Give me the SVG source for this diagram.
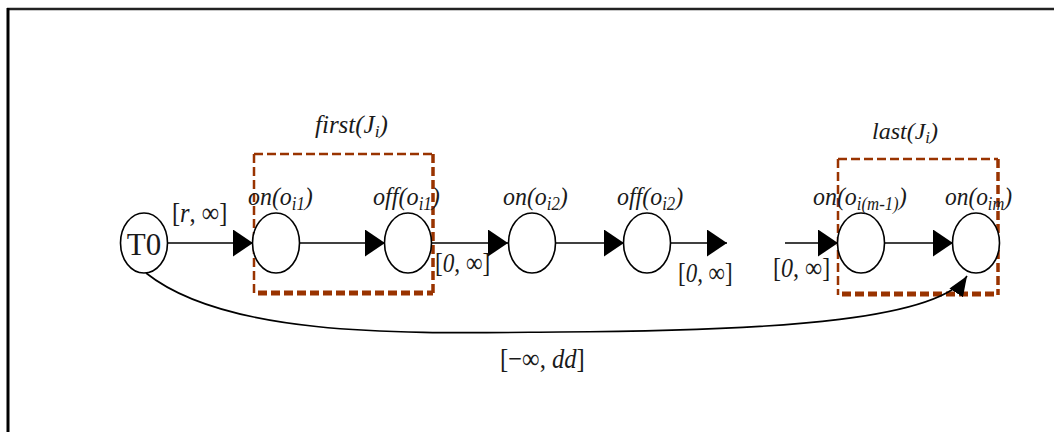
<svg xmlns="http://www.w3.org/2000/svg" width="1054" height="432" viewBox="0 0 1054 432">
<style>
.node{fill:#fff;stroke:#000;stroke-width:1.6}
.edge{fill:none;stroke:#000;stroke-width:1.6}
.box{fill:none;stroke:#993300;stroke-dasharray:9 4}
.lbl{font-family:"Liberation Serif",serif;font-style:italic;fill:#1a1a1a}
.rng{font-family:"Liberation Serif",serif;fill:#1a1a1a}
.it{font-style:italic}
.sub{font-size:70%}
</style>
<defs>
<marker id="ah" markerUnits="userSpaceOnUse" markerWidth="22" markerHeight="28" refX="20" refY="13.5" orient="auto">
<path d="M0,0 L20,13.5 L0,27 z" fill="#000"/>
</marker>
<marker id="ah2" markerUnits="userSpaceOnUse" markerWidth="22" markerHeight="18" refX="20" refY="8" orient="auto">
<path d="M0,0 L20,8 L0,16 z" fill="#000"/>
</marker>
</defs>
<rect width="1054" height="432" fill="#fff"/>
<g id="frame">
<line x1="7" y1="9" x2="1054" y2="9" stroke="#222" stroke-width="2.5"/>
<line x1="8" y1="8" x2="8" y2="432" stroke="#000" stroke-width="3"/>
</g>
<g id="first_box">
<line class="box" x1="254" y1="154" x2="433" y2="154" stroke-width="2.5"/>
<line class="box" x1="254" y1="154" x2="254" y2="294" stroke-width="2.5"/>
<line class="box" x1="433" y1="154" x2="433" y2="294" stroke-width="3.5"/>
<line class="box" x1="258" y1="293" x2="433" y2="293" stroke-width="5"/>
<text class="lbl" font-size="25" transform="translate(315,133)">first(J<tspan class="sub" dy="4">i</tspan><tspan dy="-4">)</tspan></text>
</g>
<g id="last_box">
<line class="box" x1="838" y1="159" x2="998" y2="159" stroke-width="2.5"/>
<line class="box" x1="838" y1="159" x2="838" y2="295" stroke-width="2.5"/>
<line class="box" x1="998" y1="159" x2="998" y2="295" stroke-width="3.5"/>
<line class="box" x1="842" y1="294" x2="998" y2="294" stroke-width="5"/>
<text class="lbl" font-size="24" transform="translate(872,139)">last(J<tspan class="sub" dy="4">i</tspan><tspan dy="-4">)</tspan></text>
</g>
<g id="connectors">
<line class="edge" x1="167" y1="243" x2="253" y2="243" marker-end="url(#ah)"/>
<line class="edge" x1="299" y1="243" x2="385" y2="243" marker-end="url(#ah)"/>
<line class="edge" x1="432" y1="243" x2="508" y2="243" marker-end="url(#ah)"/>
<line class="edge" x1="556" y1="243" x2="624" y2="243" marker-end="url(#ah)"/>
<line class="edge" x1="670" y1="243" x2="727" y2="243" marker-end="url(#ah)"/>
<line class="edge" x1="785" y1="243" x2="838" y2="243" marker-end="url(#ah)"/>
<line class="edge" x1="884" y1="243" x2="953" y2="243" marker-end="url(#ah)"/>
<path class="edge" d="M146,273 C230,340 420,333 560,332 C790,331 940,318 967,276" marker-end="url(#ah2)"/>
<text class="rng" font-size="28" transform="translate(172,222) scale(0.87,1)">[<tspan class="it">r</tspan>, ∞]</text>
<text class="rng" font-size="28" transform="translate(435,272) scale(0.83,1)">[<tspan class="it">0</tspan>, ∞]</text>
<text class="rng" font-size="28" transform="translate(678,282) scale(0.82,1)">[<tspan class="it">0</tspan>, ∞]</text>
<text class="rng" font-size="28" transform="translate(773,277) scale(0.86,1)">[<tspan class="it">0</tspan>, ∞]</text>
<text class="rng" font-size="28" transform="translate(500,368) scale(0.88,1)">[−∞, <tspan class="it">dd</tspan>]</text>
</g>
<g id="T0">
<ellipse class="node" cx="144" cy="243" rx="23.5" ry="30"/>
<text class="rng" x="144" y="255" font-size="31" text-anchor="middle">T0</text>
</g>
<g id="on_oi1">
<ellipse class="node" cx="276" cy="243" rx="23.5" ry="30"/>
<text class="lbl" font-size="26" transform="translate(248,205) scale(0.92,1)">on(o<tspan class="sub" dy="5">i1</tspan><tspan dy="-5">)</tspan></text>
</g>
<g id="off_oi1">
<ellipse class="node" cx="408" cy="243" rx="23.5" ry="30"/>
<text class="lbl" font-size="26" transform="translate(373,205) scale(0.93,1)">off(o<tspan class="sub" dy="5">i1</tspan><tspan dy="-5">)</tspan></text>
</g>
<g id="on_oi2">
<ellipse class="node" cx="532" cy="243" rx="23.5" ry="30"/>
<text class="lbl" font-size="26" transform="translate(503,205) scale(0.92,1)">on(o<tspan class="sub" dy="5">i2</tspan><tspan dy="-5">)</tspan></text>
</g>
<g id="off_oi2">
<ellipse class="node" cx="647" cy="243" rx="23.5" ry="30"/>
<text class="lbl" font-size="26" transform="translate(617,205) scale(0.92,1)">off(o<tspan class="sub" dy="5">i2</tspan><tspan dy="-5">)</tspan></text>
</g>
<g id="on_oim1">
<ellipse class="node" cx="861" cy="243" rx="23.5" ry="30"/>
<text class="lbl" font-size="26" transform="translate(813,205) scale(0.92,1)">on(o<tspan class="sub" dy="5">i(m-1)</tspan><tspan dy="-5">)</tspan></text>
</g>
<g id="on_oim">
<ellipse class="node" cx="976" cy="243" rx="23.5" ry="30"/>
<text class="lbl" font-size="26" transform="translate(945,205) scale(0.9,1)">on(o<tspan class="sub" dy="5">im</tspan><tspan dy="-5">)</tspan></text>
</g>
</svg>
